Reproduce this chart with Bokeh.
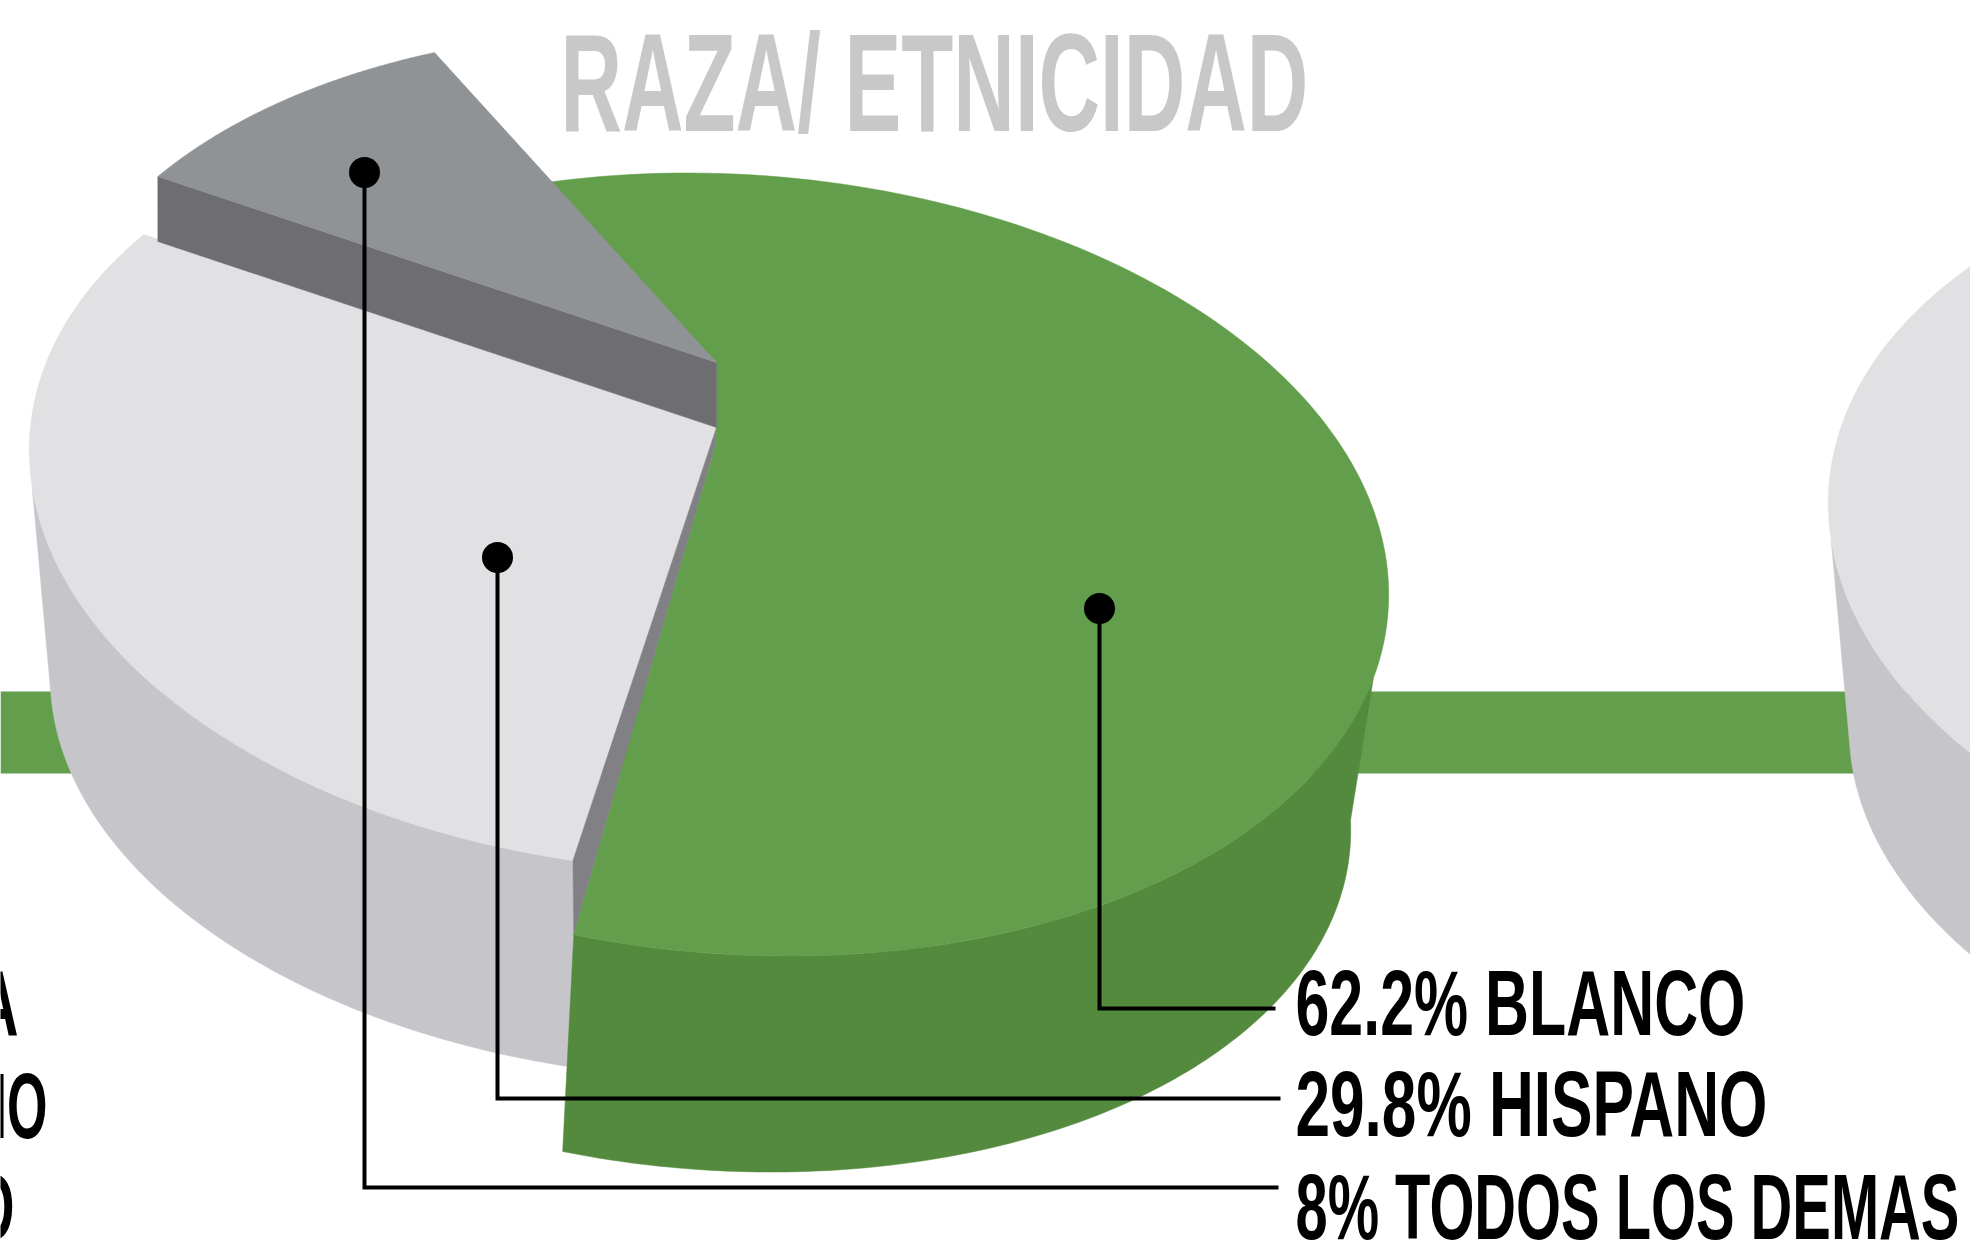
import json
import numpy as np
from bokeh.document import Document
from bokeh.plotting import figure
from bokeh.embed import file_html
from bokeh.models import CustomJS
from bokeh.resources import INLINE
from bokeh.core.properties import value

# ---- data ----
title = "RAZA/ ETNICIDAD"
categories = ["BLANCO", "HISPANO", "TODOS LOS DEMAS"]
shares = [62.2, 29.8, 8]
share_labels = ["62.2%", "29.8%", "8%"]
neighbour_fragments = ["A", "NO", "O"]

# ---- styles and layout ----
C_BAR = "#629e4b"
C_TOP = ["#629e4b", "#e1e1e3", "#909396"]
C_WALL = ["#548a3d", "#c6c6ca", "#6d6d72"]
C_SEAM = "#808085"
C_TITLE = "#c8c8c8"
FONT = value("Liberation Sans")

RX, RY, SKEW_X, SKEW_Y = 651, 391, 17, 20
LOW_RX, LOW_RY = 630, 371
START_DEG = [-106, 101, 216]
FORESHORTEN = [0.947, 1.072, 1.11]
CENTRES = [(737, 564), (680, 480), (694, 422)]
LOW_SHIFT_GREEN = (-17, 236)
LOW_SHIFT_WHITE = (0, 227)


def rim(c, t_deg):
    t = np.radians(t_deg)
    return (c[0] + RX * np.cos(t) + SKEW_X * np.sin(t),
            c[1] + RY * np.sin(t) + SKEW_Y * np.cos(t))


def low_rim(c, shift, t_deg):
    t = np.radians(t_deg)
    return (c[0] + shift[0] + LOW_RX * np.cos(t) + SKEW_X * np.sin(t),
            c[1] + shift[1] + LOW_RY * np.sin(t) + SKEW_Y * np.cos(t))


spans = [s * 3.6 * f for s, f in zip(shares, FORESHORTEN)]
arcs = [np.linspace(a, a + sp, 160) for a, sp in zip(START_DEG, spans)]

p = figure(width=1970, height=1253, x_range=(0, 1970), y_range=(1253, 0),
           x_axis_type=None, y_axis_type=None, toolbar_location=None,
           output_backend="svg", min_border=0, outline_line_color=None,
           background_fill_color="white", border_fill_color="white")
p.grid.visible = False


def poly(xs, ys, color):
    p.patch(list(xs), list(ys), fill_color=color, line_color=color, line_width=0.5)


# band behind the pies
p.quad(left=[0], right=[1970], top=[691], bottom=[773], fill_color=C_BAR, line_color=None)

# neighbouring pie at the right edge
nc = (2479, 533)
xl, yl = low_rim(nc, LOW_SHIFT_WHITE, np.linspace(120, 178, 80))
xt, yt = rim(nc, np.linspace(176, 120, 80))
poly(np.r_[xl, xt], np.r_[yl, yt], C_WALL[1])
xt, yt = rim(nc, np.linspace(120, 250, 120))
poly(xt, yt, C_TOP[1])

# second slice (white): wall then top
c = CENTRES[1]
xl, yl = low_rim(c, LOW_SHIFT_WHITE, np.linspace(START_DEG[1] - 2, 178, 120))
xt, yt = rim(c, np.linspace(176, START_DEG[1], 120))
poly(np.r_[xl, xt], np.r_[yl, yt], C_WALL[1])
xt, yt = rim(c, arcs[1])
poly(np.r_[716, xt], np.r_[427, yt], C_TOP[1])

# first slice (green): wall then top
c = CENTRES[0]
bx, by = rim(c, arcs[0][-1])
poly([716, xt[0], bx, 716], [427, yt[0], by, 442], C_SEAM)
xl, yl = low_rim(c, LOW_SHIFT_GREEN, np.linspace(arcs[0][-1], 0, 120))
xt, yt = rim(c, np.linspace(14, arcs[0][-1], 120))
poly(np.r_[xl, xt], np.r_[yl, yt], C_WALL[0])
xt, yt = rim(c, arcs[0])
poly(np.r_[716, xt, 716], np.r_[362, yt, 442], C_TOP[0])

# third slice (grey), raised
c = CENTRES[2]
xt, yt = rim(c, arcs[2])
poly([716, xt[0], xt[0], 716], [362, yt[0], yt[0] + 65, 427], C_WALL[2])
poly(np.r_[716, xt], np.r_[362, yt], C_TOP[2])

# leader lines
leader_x = [[1099, 1099, 1275], [497, 497, 1280], [364, 364, 1278]]
leader_y = [[608, 1008, 1008], [557, 1098, 1098], [172, 1187, 1187]]
p.multi_line(leader_x, leader_y, line_color="black", line_width=4, line_join="miter")
p.scatter([l[0] for l in leader_x], [l[0] for l in leader_y], size=31, marker="circle",
          fill_color="black", line_color=None)

# texts
p.text([560], [82], text=[title], text_font=FONT, text_font_style="bold",
       text_font_size="140px", text_color=C_TITLE, text_baseline="alphabetic")
labels = [f"{s} {n}" for s, n in zip(share_labels, categories)]
p.text([1295] * 3, [1002, 1103, 1206], text=labels, text_font=FONT, text_font_style="bold",
       text_font_size="93px", text_color="black", text_baseline="alphabetic")
p.text([-24, -31, -28], [1003, 1106, 1206], text=neighbour_fragments, text_font=FONT,
       text_font_style="bold", text_font_size="93px", text_color="black",
       text_baseline="alphabetic")

# the reference's lettering is a tall condensed face: squeeze the SVG texts to its widths
text_widths = dict(zip([title] + labels + neighbour_fragments, [748, 450, 472, 664, 42, 78, 42]))
squeeze = CustomJS(args=dict(widths=json.dumps(text_widths)), code="""
const w = JSON.parse(widths);
function walk(root, out) {
  root.querySelectorAll('*').forEach(el => {
    if (el.tagName === 'text') out.push(el);
    if (el.shadowRoot) walk(el.shadowRoot, out);
  });
  return out;
}
let tries = 0;
const timer = setInterval(() => {
  let n = 0;
  for (const t of walk(document, [])) {
    const len = w[t.textContent];
    if (!len) continue;
    if (!t.dataset.squeezed) {
      const s = len / t.getComputedTextLength();
      const x0 = parseFloat(t.getAttribute('x') || '0');
      const orig = t.getAttribute('transform') || '';
      t.setAttribute('transform', orig + ' translate(' + x0 + ',0) scale(' + s + ',1) translate(' + (-x0) + ',0)');
      t.dataset.squeezed = '1';
    }
    n++;
  }
  if (n >= Object.keys(w).length || ++tries > 100) clearInterval(timer);
}, 30);
""")
doc = Document()
doc.add_root(p)
doc.js_on_event("document_ready", squeeze)

open("out.html", "w").write(file_html(doc, INLINE))
